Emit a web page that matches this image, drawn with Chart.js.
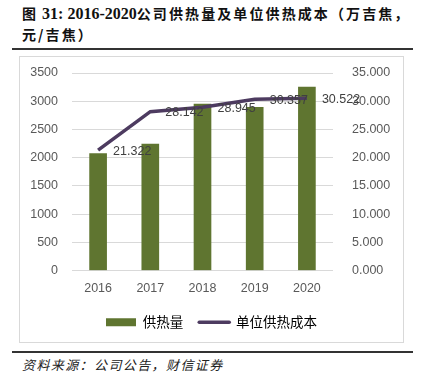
<!DOCTYPE html>
<html>
<head>
<meta charset="utf-8">
<script src="https://cdn.jsdelivr.net/npm/chart.js@4/dist/chart.umd.min.js"></script>
<style>
  body { margin: 0; width: 423px; height: 385px; background: #fff; position: relative; overflow: hidden; }
  .title { position: absolute; left: 22px; top: 3px; width: 400px; font-family: "Noto Sans CJK SC", sans-serif; font-weight: bold; font-size: 14px; line-height: 21px; letter-spacing: 2.1px; color: #111; }
  .title .num { font-family: "Liberation Serif", serif; font-size: 16px; letter-spacing: 0; }
  .rule { position: absolute; left: 12px; width: 401px; height: 2px; background: #333; }
  .box { position: absolute; left: 19px; top: 56px; width: 383px; height: 285px; border: 1px solid #d9d9d9; }
  .source { position: absolute; left: 22px; top: 355px; font-family: "Noto Sans CJK SC", sans-serif; font-style: italic; font-size: 13px; letter-spacing: 1.4px; color: #222; }
</style>
</head>
<body>
<div class="title">图<span class="num"> 31: 2016-2020</span>公司供热量及单位供热成本（万吉焦，<br>元/吉焦）</div>
<div class="rule" style="top:48px"></div>
<div class="box"><canvas id="chart" width="383" height="285"></canvas></div>
<div class="rule" style="top:351px"></div>
<div class="source">资料来源：公司公告，财信证券</div>
<script>
const years = ["2016", "2017", "2018", "2019", "2020"];
const heatSupply = [2070, 2240, 2950, 2890, 3250];
const unitCost = [21.322, 28.142, 28.945, 30.357, 30.522];
const leftTicks = [0, 500, 1000, 1500, 2000, 2500, 3000, 3500];
const rightTicks = [0, 5, 10, 15, 20, 25, 30, 35];

const barColor = "#5f7530";
const lineColor = "#4d3b60";
const tickFont = { family: "Liberation Sans", size: 12.5 };

// data labels to the right of each line point
const valueLabels = {
    id: "valueLabels",
    afterDatasetsDraw(chart) {
        const ctx = chart.ctx;
        const meta = chart.getDatasetMeta(1);
        ctx.save();
        ctx.font = "12.5px 'Liberation Sans'";
        ctx.fillStyle = "#404040";
        ctx.textAlign = "left";
        ctx.textBaseline = "middle";
        meta.data.forEach((pt, i) => {
            ctx.fillText(unitCost[i].toFixed(3), pt.x + 15, pt.y + 1);
        });
        ctx.restore();
    }
};

const ctx = document.getElementById("chart").getContext("2d");

new Chart(ctx, {
    type: "bar",
    data: {
        labels: years,
        datasets: [
            {
                label: "供热量",
                data: heatSupply,
                backgroundColor: barColor,
                barThickness: 17,
                yAxisID: "y",
                order: 1
            },
            {
                type: "line",
                label: "单位供热成本",
                data: unitCost,
                borderColor: lineColor,
                borderWidth: 3.5,
                pointRadius: 0,
                tension: 0,
                yAxisID: "y1",
                order: 0
            }
        ]
    },
    options: {
        responsive: false,
        animation: false,
        layout: { padding: { top: 16, bottom: 3, left: 0, right: 0 } },
        plugins: {
            tooltip: { enabled: false },
            legend: {
                position: "bottom",
                labels: {
                    usePointStyle: true,
                    pointStyleWidth: 30,
                    boxHeight: 8,
                    padding: 16,
                    color: "#8c8c8c",
                    font: { family: "Noto Sans CJK SC", size: 13.5 },
                    generateLabels: () => [
                        { text: "供热量", fillStyle: barColor, strokeStyle: barColor, lineWidth: 0, pointStyle: "rect", datasetIndex: 0 },
                        { text: "单位供热成本", fillStyle: lineColor, strokeStyle: lineColor, lineWidth: 3.5, lineCap: "round", pointStyle: "line", datasetIndex: 1 }
                    ]
                }
            }
        },
        scales: {
            x: {
                grid: { display: false, drawTicks: false },
                border: { display: false },
                ticks: { color: "#595959", font: tickFont, padding: 11 },
                afterFit: (scale) => { scale.height = 29; }
            },
            y: {
                position: "left",
                min: 0,
                max: 3500,
                afterBuildTicks: (scale) => { scale.ticks = leftTicks.map(v => ({ value: v })); },
                grid: { color: "#d9d9d9", drawTicks: true, tickLength: 14, tickColor: "rgba(0,0,0,0)" },
                border: { display: false },
                ticks: { color: "#595959", font: tickFont, padding: 0, callback: (v) => String(v) },
                afterFit: (scale) => { scale.width = 52; }
            },
            y1: {
                position: "right",
                min: 0,
                max: 35,
                afterBuildTicks: (scale) => { scale.ticks = rightTicks.map(v => ({ value: v })); },
                grid: { display: true, drawOnChartArea: false, drawTicks: true, tickLength: 19, tickColor: "rgba(0,0,0,0)" },
                border: { display: false },
                ticks: { color: "#595959", font: tickFont, padding: 0, callback: (v) => v.toFixed(3) },
                afterFit: (scale) => { scale.width = 70; }
            }
        }
    },
    plugins: [valueLabels]
});
</script>
</body>
</html>
